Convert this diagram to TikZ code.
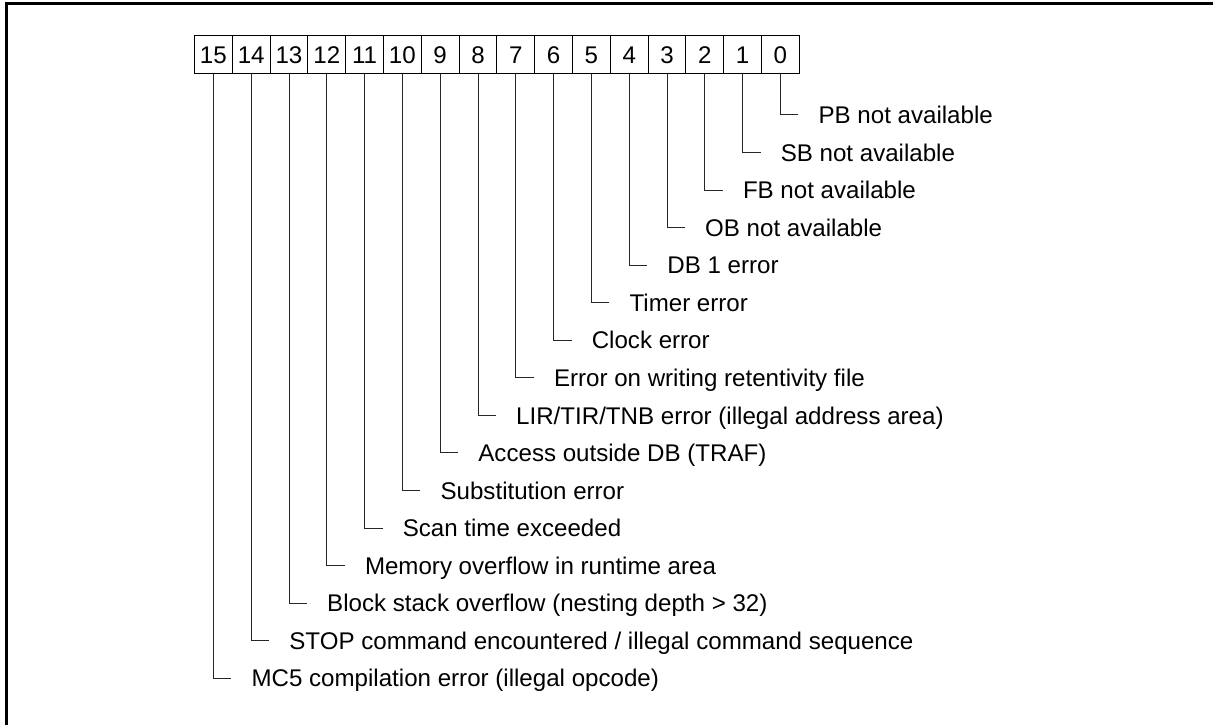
\documentclass[tikz,border=0pt]{standalone}
\usepackage{fontspec}
\setmainfont{Liberation Sans}
\tikzset{
  bitbox/.style={draw, line width=1bp, minimum width=37.8bp, minimum height=38bp, inner sep=0pt, font=\fontsize{24.2}{27}\selectfont},
  desc/.style={anchor=west, inner xsep=20bp, inner ysep=0pt, text height=17.3bp, text depth=0pt, font=\fontsize{24.2}{27}\selectfont},
  conn/.style={line width=1bp, black!85},
  frameline/.style={line width=3bp}
}
\begin{document}
\begin{tikzpicture}[x=1bp,y=-1bp]
\useasboundingbox (0,0) rectangle (1213,725);
\coordinate (fb) at (6.5,725);
\coordinate (fc) at (6.5,4);
\coordinate (fr) at (1213,4);
\draw[frameline] (fb) -- (fc) -- (fr);
\foreach \k/\t in {0/PB not available, 1/SB not available, 2/FB not available, 3/OB not available, 4/DB 1 error, 5/Timer error, 6/Clock error, 7/Error on writing retentivity file, 8/{LIR/TIR/TNB error (illegal address area)}, 9/Access outside DB (TRAF), 10/Substitution error, 11/Scan time exceeded, 12/Memory overflow in runtime area, 13/Block stack overflow (nesting depth > 32), 14/{STOP command encountered / illegal command sequence}, 15/MC5 compilation error (illegal opcode)} {
  \pgfmathsetmacro\cx{194.5+37.8*(15-\k)+18.9}
  \pgfmathsetmacro\ly{115+37.55*\k}
  \node[bitbox] (b\k) at (\cx,55) {\k};
  \node[desc] (l\k) at (\cx+18,\ly) {\t};
  \draw[conn] (b\k.south) |- (l\k.west);
}
\end{tikzpicture}
\end{document}
